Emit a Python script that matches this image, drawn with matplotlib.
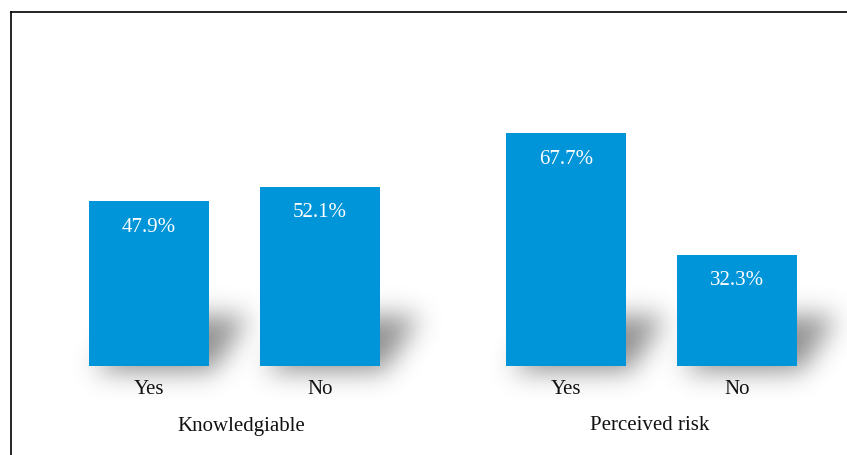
import numpy as np
import matplotlib
matplotlib.use("Agg")
import matplotlib.pyplot as plt
from matplotlib.path import Path

# ---- data ----
groups = ["Knowledgiable", "Perceived risk"]
categories = ["Yes", "No", "Yes", "No"]
values = [47.9, 52.1, 67.7, 32.3]
value_labels = ["47.9%", "52.1%", "67.7%", "32.3%"]
positions = [0.0, 1.0, 2.44, 3.44]
group_centers = [0.54, 2.93]

W, H = 847, 455
DPI = 100
fig = plt.figure(figsize=(W / DPI, H / DPI), dpi=DPI)
plt.rcParams['font.family'] = ['Liberation Serif', 'DejaVu Serif']

bar_color = "#0094D8"
width = 0.70

# main axes geometry in pixels
ax_left, ax_bottom, ax_right, ax_top = 10.5, 0, 848, 443.5
ax = fig.add_axes([ax_left / W, ax_bottom / H, (ax_right - ax_left) / W, (ax_top - ax_bottom) / H], zorder=2)
ax.patch.set_alpha(0)
unit = 171.0
x0_px = 149.0
ax.set_xlim((ax_left - x0_px) / unit, (ax_right - x0_px) / unit)
ypx = 3.44
base_px = H - 366
ax.set_ylim((ax_bottom - base_px) / ypx, (ax_top - base_px) / ypx)

bars = ax.bar(positions, values, width=width, color=bar_color, zorder=3)
for p, v, lab in zip(positions, values, value_labels):
    ax.annotate(lab, (p, v), xytext=(0, -26), textcoords="offset pixels",
                ha="center", va="center", color="white", fontsize=15, zorder=4)
for p, c in zip(positions, categories):
    ax.annotate(c, (p, 0), xytext=(0, -24), textcoords="offset pixels",
                ha="center", va="center", color="#111111", fontsize=15)
for g, gc in zip(groups, group_centers):
    ax.annotate(g, (gc, 0), xytext=(0, -60), textcoords="offset pixels",
                ha="center", va="center", color="#111111", fontsize=15)

ax.set_xticks([])
ax.set_yticks([])
for s in ["right", "bottom"]:
    ax.spines[s].set_visible(False)
for s in ["left", "top"]:
    ax.spines[s].set_linewidth(1.2)
    ax.spines[s].set_color("black")

# ---- soft shadows computed from bar positions ----
fig.canvas.draw()
yy, xx = np.mgrid[0:H, 0:W]
pts = np.column_stack([xx.ravel() + 0.5, yy.ravel() + 0.5])
mask = np.zeros(H * W)
for p, v in zip(positions, values):
    (L, B), (R, T) = ax.transData.transform([(p - width / 2, 0), (p + width / 2, v)])
    B = H - B
    T = H - T
    poly = Path([(L + 6, B + 5), (R + 4, B + 5), (R + 40, B - 50), (L + 42, B - 50)])
    mask = np.maximum(mask, poly.contains_points(pts).astype(float))
mask = mask.reshape(H, W)

def gauss_blur(a, sigma):
    r = int(3 * sigma)
    k = np.exp(-0.5 * (np.arange(-r, r + 1) / sigma) ** 2)
    k /= k.sum()
    a = np.apply_along_axis(lambda m: np.convolve(m, k, mode="same"), 0, a)
    a = np.apply_along_axis(lambda m: np.convolve(m, k, mode="same"), 1, a)
    return a

shadow = gauss_blur(mask, 13) * 0.55
rgba = np.zeros((H, W, 4))
rgba[..., :3] = 0.2
rgba[..., 3] = np.clip(shadow, 0, 1)
bg = fig.add_axes([0, 0, 1, 1], zorder=1)
bg.imshow(rgba, extent=[0, W, H, 0], interpolation="bilinear", aspect="auto")
bg.set_xlim(0, W)
bg.set_ylim(H, 0)
bg.axis("off")

fig.savefig("out.png", dpi=DPI)
